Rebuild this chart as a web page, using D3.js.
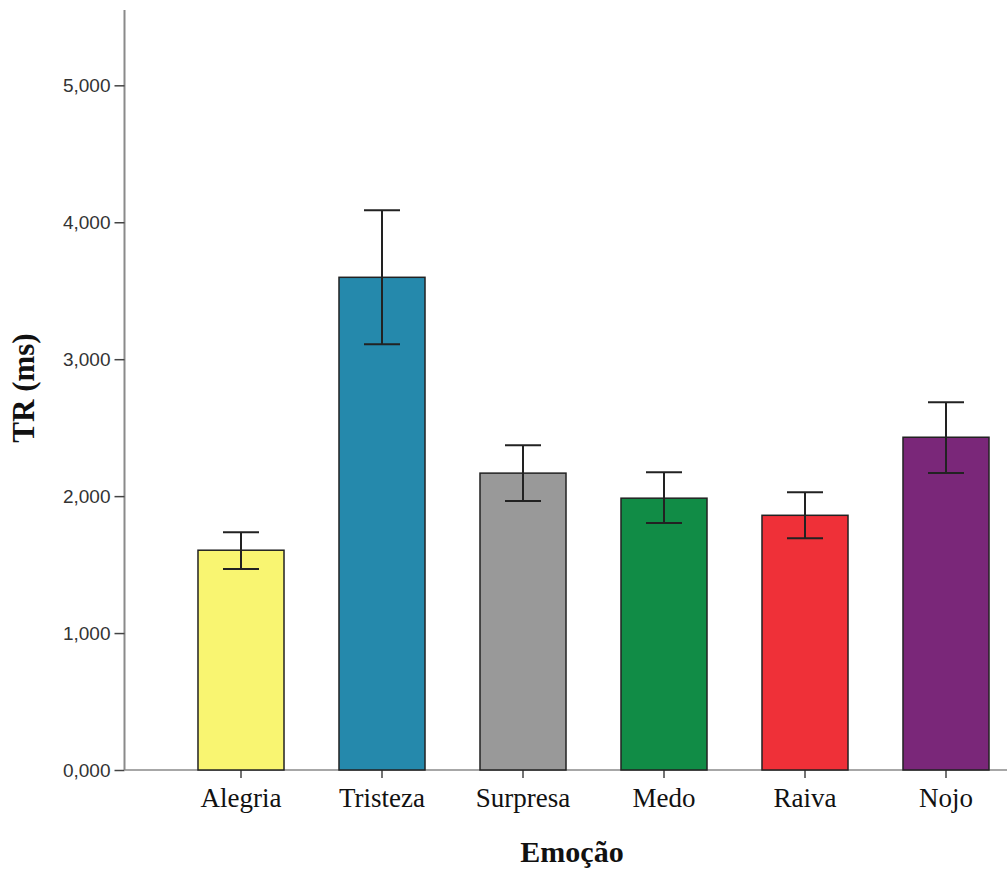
<!DOCTYPE html>
<html>
<head>
<meta charset="utf-8">
<script src="https://cdn.jsdelivr.net/npm/d3@7"></script>
<style>
  html, body { margin: 0; padding: 0; background: #fff; }
  svg { display: block; }
</style>
</head>
<body>
<svg id="chart" width="1007" height="872"></svg>
<script>
// Mean response time (ms) per emotion with error-bar limits
const emotions = ["Alegria", "Tristeza", "Surpresa", "Medo", "Raiva", "Nojo"];
const meanTR   = [1605, 3598, 2168, 1985, 1860, 2430];
const upperTR  = [1737, 4088, 2372, 2175, 2029, 2686];
const lowerTR  = [1467, 3109, 1964, 1803, 1693, 2168];
const barColors = ["#f9f571", "#2589ac", "#999999", "#118c46", "#ef3038", "#7a2779"];
const yTicks = [0, 1000, 2000, 3000, 4000, 5000];

const rows = emotions.map((e, i) => ({
  name: e, mean: meanTR[i], hi: upperTR[i], lo: lowerTR[i], color: barColors[i]
}));

const svg = d3.select("#chart");
const x0 = 124.5, yBase = 770, yTop = 10;

const y = d3.scaleLinear().domain([0, 5550]).range([yBase, yTop]);
const x = d3.scaleBand().domain(emotions).range([170.5, 1016.5]).paddingInner(0.39).paddingOuter(0.195);

// Y axis
const yAxis = svg.append("g")
  .attr("transform", `translate(${x0},0)`)
  .call(d3.axisLeft(y).tickValues(yTicks).tickSize(10).tickSizeOuter(0)
    .tickFormat(d => d3.format(",")(d / 1000).replace(".", ",") + ",000"));
yAxis.select(".domain").attr("stroke", "#8a8a8a").attr("stroke-width", 2)
  .attr("d", `M0,${yBase}V${yTop}`);
yAxis.selectAll(".tick line").attr("stroke", "#444").attr("stroke-width", 1.5);
yAxis.selectAll(".tick text")
  .attr("font-family", "Liberation Sans, Arial, sans-serif")
  .attr("font-size", 19).attr("fill", "#333").attr("x", -14);

// X axis
const xAxis = svg.append("g")
  .attr("transform", `translate(0,${yBase})`)
  .call(d3.axisBottom(x).tickSize(8).tickSizeOuter(0).tickPadding(10));
xAxis.select(".domain").attr("stroke", "#8a8a8a").attr("stroke-width", 1.5)
  .attr("d", `M${x0},0H1007`);
xAxis.selectAll(".tick line").attr("stroke", "#444").attr("stroke-width", 1.5);
xAxis.selectAll(".tick text")
  .attr("font-family", "Liberation Serif, Times New Roman, serif")
  .attr("font-size", 27).attr("fill", "#111");

// Bars
svg.append("g").selectAll("rect").data(rows).join("rect")
  .attr("x", d => x(d.name))
  .attr("y", d => y(d.mean))
  .attr("width", x.bandwidth())
  .attr("height", d => y(0) - y(d.mean))
  .attr("fill", d => d.color)
  .attr("stroke", "#222").attr("stroke-width", 1.5);

// Error bars
const eb = svg.append("g").attr("stroke", "#222").attr("stroke-width", 2);
const cap = 18;
rows.forEach(d => {
  const cx = x(d.name) + x.bandwidth() / 2;
  eb.append("line").attr("x1", cx).attr("x2", cx).attr("y1", y(d.hi)).attr("y2", y(d.lo));
  eb.append("line").attr("x1", cx - cap).attr("x2", cx + cap).attr("y1", y(d.hi)).attr("y2", y(d.hi));
  eb.append("line").attr("x1", cx - cap).attr("x2", cx + cap).attr("y1", y(d.lo)).attr("y2", y(d.lo));
});

// Axis titles
svg.append("text")
  .attr("x", 572).attr("y", 862).attr("text-anchor", "middle")
  .attr("font-family", "Liberation Serif, Times New Roman, serif")
  .attr("font-weight", "bold").attr("font-size", 30).attr("fill", "#111")
  .text("Emoção");
svg.append("text")
  .attr("transform", "translate(34,388) rotate(-90)").attr("text-anchor", "middle")
  .attr("font-family", "Liberation Serif, Times New Roman, serif")
  .attr("font-weight", "bold").attr("font-size", 31).attr("fill", "#111")
  .text("TR (ms)");
</script>
</body>
</html>
